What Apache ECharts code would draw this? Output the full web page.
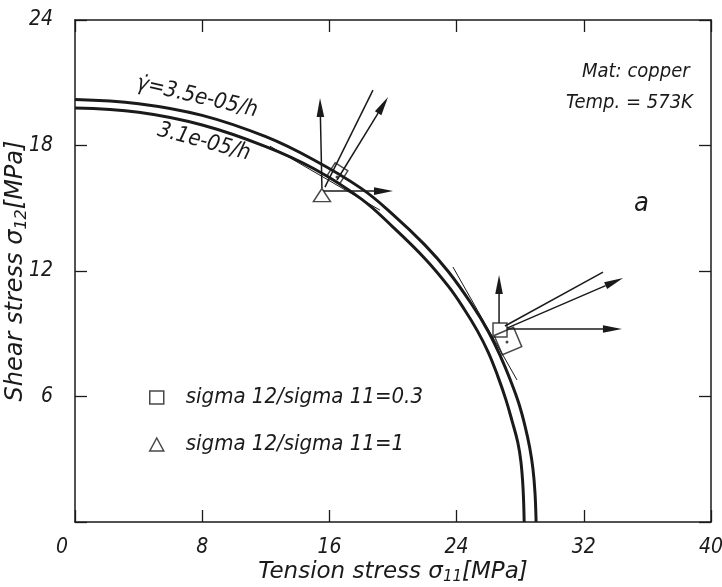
<!DOCTYPE html>
<html>
<head>
<meta charset="utf-8">
<script src="https://cdn.jsdelivr.net/npm/echarts@6/dist/echarts.min.js"></script>
<style>html,body{margin:0;padding:0;background:#fff}#c{width:722px;height:587px}</style>
</head>
<body>
<div id="c"></div>
<script>
// ---- data (MPa) ----
const xTicks = [0, 8, 16, 24, 32, 40];
const yTicks = [0, 6, 12, 18, 24];
const curveOuterX = [0,4,8,12,15,18,20,22,23.5,25,26,26.8,27.4,27.9,28.3,28.6,28.8,28.93,29.0];
const curveOuterY = [20.2,20.0,19.44,18.42,17.32,15.95,14.7,13.25,11.95,10.35,9.1,7.85,6.75,5.7,4.6,3.55,2.55,1.4,0];
const curveInnerX = [0,4,8,12,15,18,20,22,23.5,24.5,25.3,26,26.6,27.1,27.5,27.85,28.05,28.18,28.25];
const curveInnerY = [19.79,19.59,18.98,17.95,16.9,15.45,14.1,12.6,11.25,10.15,9.15,8.1,6.95,5.85,4.8,3.8,2.85,1.6,0];
const ratio03Points = [[26.73, 9.18]];
const ratio1Points = [[15.53, 15.63]];
const rotatedElements = [[16.51, 16.68, 58, 15], [27.23, 8.65, 23, 21]]; // x, y, angle, size
const elementDots = [[16.48, 16.49], [27.17, 8.60]];
const arrowVectors = [
  [15.53,15.97, 15.41,20.27],
  [15.60,15.82, 20.0,15.82],
  [16.48,16.35, 19.69,20.32],
  [26.67,9.51, 26.67,11.81],
  [27.17,9.23, 34.40,9.23],
  [27.17,9.27, 34.47,11.66]
];
const plainVectors = [
  [15.72,16.01, 18.74,20.65],
  [27.04,9.37, 33.21,11.95]
];
const tangentLines = [
  [12.26,17.97, 19.18,14.91],
  [23.77,12.19, 27.80,6.79]
];
const curveLabels = ['\u03B3\u0307=3.5e-05/h', '3.1e-05/h'];
const seriesNames = ['sigma 12/sigma 11=0.3', 'sigma 12/sigma 11=1'];

const zip = (xs, ys) => xs.map((x, i) => [x, ys[i]]);

const FONT = "'DejaVu Sans Condensed', 'DejaVu Sans', sans-serif";
const FONTW = "'DejaVu Sans', sans-serif";
const INK = '#1a1a1a';
const chart = echarts.init(document.getElementById('c'));

const tickStyle = {show:true, inside:true, length:12, lineStyle:{color:INK, width:1.3}};
const lineAx = {show:true, onZero:false, lineStyle:{color:INK, width:1.5}};
const lblStyle = {fontFamily:FONT, fontStyle:'italic', fontSize:21, color:INK};
const titleStyle = {fontFamily:FONTW, fontStyle:'italic', fontSize:23, color:INK};

function vecSeries(name, data, width, head){
  return {
    name:name, type:'custom', coordinateSystem:'cartesian2d', data:data,
    encode:{x:[0,2], y:[1,3]}, z:4, silent:true,
    renderItem:function(params, api){
      const p1 = api.coord([api.value(0), api.value(1)]);
      const p2 = api.coord([api.value(2), api.value(3)]);
      const dx = p2[0]-p1[0], dy = p2[1]-p1[1];
      const len = Math.sqrt(dx*dx+dy*dy);
      const ux = dx/len, uy = dy/len;
      const children = [];
      if (head) {
        const L = 19, hw = 3.8;
        const bx = p2[0]-ux*L, by = p2[1]-uy*L;
        children.push({type:'line', shape:{x1:p1[0], y1:p1[1], x2:bx, y2:by}, style:{stroke:INK, lineWidth:width}});
        children.push({type:'polygon', shape:{points:[[p2[0],p2[1]],[bx-uy*hw, by+ux*hw],[bx+uy*hw, by-ux*hw]]}, style:{fill:INK}});
      } else {
        children.push({type:'line', shape:{x1:p1[0], y1:p1[1], x2:p2[0], y2:p2[1]}, style:{stroke:INK, lineWidth:width}});
      }
      return {type:'group', children:children};
    }
  };
}

chart.setOption({
  animation:false,
  backgroundColor:'#fff',
  grid:{left:75, right:11, top:20, bottom:65, containLabel:false, outerBoundsMode:'none'},
  xAxis:[
    {type:'value', min:xTicks[0], max:xTicks[xTicks.length-1], interval:8, position:'bottom',
     axisLine:lineAx, axisTick:tickStyle, splitLine:{show:false},
     axisLabel:Object.assign({margin:15, formatter:v=> v===0 ? '{z|0}' : String(v),
       rich:{z:Object.assign({padding:[0,26,0,0]}, lblStyle)}}, lblStyle),
     name:'Tension stress \u03C3{s|11}[MPa]', nameLocation:'middle', nameGap:37, nameMoveOverlap:false,
     nameTextStyle:Object.assign({}, titleStyle, {rich:{s:Object.assign({}, titleStyle, {fontSize:15, padding:[11,0,0,0]})}})},
    {type:'value', min:0, max:40, interval:8, position:'top',
     axisLine:lineAx, axisTick:tickStyle, axisLabel:{show:false}, splitLine:{show:false}}
  ],
  yAxis:[
    {type:'value', min:yTicks[0], max:yTicks[yTicks.length-1], interval:6, position:'left',
     axisLine:lineAx, axisTick:tickStyle, splitLine:{show:false},
     axisLabel:Object.assign({margin:22, formatter:v=> v===0 ? '' : String(v)}, lblStyle),
     name:'Shear stress \u03C3{s|12}[MPa]', nameLocation:'middle', nameGap:45, nameMoveOverlap:false,
     nameTextStyle:Object.assign({}, titleStyle, {fontSize:24, rich:{s:Object.assign({}, titleStyle, {fontSize:16, padding:[12,0,0,0]})}})},
    {type:'value', min:0, max:24, interval:6, position:'right',
     axisLine:lineAx, axisTick:tickStyle, axisLabel:{show:false}, splitLine:{show:false}}
  ],
  legend:{
    orient:'vertical', left:144, top:380, itemGap:22, itemWidth:14, itemHeight:13,
    textStyle:Object.assign({}, lblStyle, {fontSize:22, padding:[0,0,0,17], lineHeight:25}),
    data:[
      {name:seriesNames[0], icon:'rect', itemStyle:{color:'#fff', borderColor:INK, borderWidth:1.5}},
      {name:seriesNames[1], icon:'triangle', itemStyle:{color:'#fff', borderColor:INK, borderWidth:1.5}}
    ]
  },
  graphic:[
    {type:'text', left:582, top:62, style:{text:'Mat: copper', font:"italic 20px "+FONT, fill:INK}},
    {type:'text', left:566, top:93, style:{text:'Temp. = 573K', font:"italic 20px "+FONT, fill:INK}},
    {type:'text', left:634, top:190, style:{text:'a', font:"italic 27px "+FONT, fill:INK}},
    {type:'text', x:197, y:97, rotation:-13*Math.PI/180, style:{text:curveLabels[0], font:"italic 22px "+FONT, fill:INK, align:'center', verticalAlign:'middle'}},
    {type:'text', x:204, y:142, rotation:-15*Math.PI/180, style:{text:curveLabels[1], font:"italic 22px "+FONT, fill:INK, align:'center', verticalAlign:'middle'}}
  ],
  series:[
    {name:'outer', type:'line', data:zip(curveOuterX, curveOuterY), smooth:0.4, showSymbol:false, lineStyle:{color:INK, width:3}, z:3, silent:true},
    {name:'inner', type:'line', data:zip(curveInnerX, curveInnerY), smooth:0.4, showSymbol:false, lineStyle:{color:INK, width:3}, z:3, silent:true},
    vecSeries('tangent', tangentLines, 1, false),
    vecSeries('plain', plainVectors, 1.5, false),
    vecSeries('arrows', arrowVectors, 1.5, true),
    {name:'rotated', type:'scatter', data:rotatedElements.map(r=>({value:[r[0],r[1]], symbolRotate:r[2], symbolSize:r[3]})),
     symbol:'rect', itemStyle:{color:'rgba(255,255,255,0)', borderColor:INK, borderWidth:1.5}, z:5},
    {name:'dots', type:'scatter', data:elementDots, symbol:'circle', symbolSize:3, itemStyle:{color:INK}, z:6},
    {name:seriesNames[0], type:'scatter', data:ratio03Points, symbol:'rect', symbolSize:14,
     itemStyle:{color:'rgba(255,255,255,0)', borderColor:INK, borderWidth:1.5}, z:6},
    {name:seriesNames[1], type:'scatter', data:ratio1Points, symbol:'triangle', symbolSize:[17,13],
     itemStyle:{color:'#fff', borderColor:INK, borderWidth:1.5}, z:6}
  ]
});
</script>
</body>
</html>
